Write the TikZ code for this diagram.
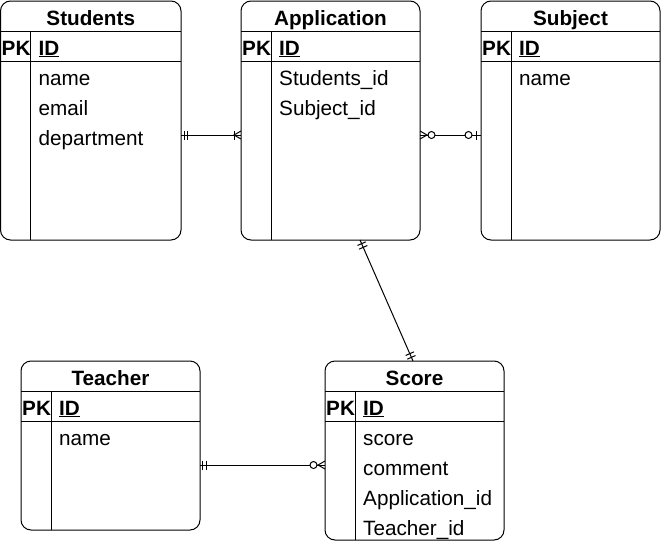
\documentclass[tikz,border=0pt]{standalone}
\usepackage{fontspec}
\setmainfont{Liberation Sans}
\usetikzlibrary{calc}
\tikzset{
  ebox/.style={draw, line width=1pt, rounded corners=10pt, inner sep=0pt, outer sep=0pt, anchor=north west},
  etitle/.style={font=\fontsize{20.7}{24}\selectfont\bfseries, anchor=base, inner sep=0pt},
  efield/.style={font=\fontsize{20.7}{24}\selectfont, anchor=base west, inner sep=0pt},
  conn/.style={line width=1pt},
  ercircle/.style={conn, fill=white},
}
\newcommand\erbox[6]{%
  \node[ebox, minimum width=#4pt, minimum height=#5pt] (#1) at (#2,#3) {};
  \draw[conn] ($(#1.north west)+(0,30)$) -- ($(#1.north east)+(0,30)$);
  \draw[conn] ($(#1.north west)+(0,60)$) -- ($(#1.north east)+(0,60)$);
  \draw[conn] ($(#1.north west)+(30,30)$) -- ($(#1.south west)+(30,0)$);
  \node[etitle] (#1-title) at ($(#1.north)+(0,24)$) {#6};
  \node[etitle, anchor=base west] (#1-pk) at ($(#1.north west)+(1,54)$) {PK};
  \node[etitle, anchor=base west] (#1-id) at ($(#1.north west)+(38,54)$) {\underline{ID}};
}
\newcommand\erfield[3]{%
  \node[efield] (#1-f#2) at ($(#1.north west)+(38,{84+30*#2})$) {#3};
}
% bar across line at distance #3 from end #1 (other end #2)
\newcommand\erbar[3]{%
  \draw[conn] ($(#1)!#3!(#2)!4.5pt!90:(#2)$) -- ($(#1)!#3!(#2)!4.5pt!-90:(#2)$);
}
% crow's foot: tips on #1, converging at distance #3 toward #2
\newcommand\ercrow[3]{%
  \draw[conn] ($(#1)!4pt!90:(#2)$) -- ($(#1)!#3!(#2)$) -- ($(#1)!4pt!-90:(#2)$);
}
% circle centred at distance #3 from #1
\newcommand\ercirc[3]{%
  \draw[ercircle] ($(#1)!#3!(#2)$) circle[radius=3.5pt];
}
\begin{document}
\begin{tikzpicture}[x=1pt, y=-1pt]
  \useasboundingbox (0,0) rectangle (661,541);

  \erbox{Students}{0.5}{1}{180.5}{239}{Students}
  \erfield{Students}{0}{name}
  \erfield{Students}{1}{email}
  \erfield{Students}{2}{department}

  \erbox{Application}{241}{1}{179}{239}{Application}
  \erfield{Application}{0}{Students\_id}
  \erfield{Application}{1}{Subject\_id}

  \erbox{Subject}{481}{1}{179}{239}{Subject}
  \erfield{Subject}{0}{name}

  \erbox{Teacher}{21}{361}{179}{169}{Teacher}
  \erfield{Teacher}{0}{name}

  \erbox{Score}{325}{361}{179}{179}{Score}
  \erfield{Score}{0}{score}
  \erfield{Score}{1}{comment}
  \erfield{Score}{2}{Application\_id}
  \erfield{Score}{3}{Teacher\_id}

  % Students -- Application (one mandatory to one-or-many)
  \coordinate (sa1) at ($(Students.north east)+(0,134)$);
  \coordinate (sa2) at ($(Application.north west)+(0,134)$);
  \draw[conn] (sa1) -- (sa2);
  \erbar{sa1}{sa2}{3pt}
  \erbar{sa1}{sa2}{6.5pt}
  \ercrow{sa2}{sa1}{7pt}
  \erbar{sa2}{sa1}{7pt}

  % Application -- Subject (zero-or-many to zero-or-one)
  \coordinate (as1) at ($(Application.north east)+(0,134)$);
  \coordinate (as2) at ($(Subject.north west)+(0,134)$);
  \draw[conn] (as1) -- (as2);
  \ercrow{as1}{as2}{7pt}
  \ercirc{as1}{as2}{11.5pt}
  \erbar{as2}{as1}{5pt}
  \ercirc{as2}{as1}{12.5pt}

  % Application -- Score (one mandatory both ends)
  \coordinate (ac1) at ($(Application.south)+(29.5,0)$);
  \coordinate (ac2) at ($(Score.north)+(-1.5,0)$);
  \draw[conn] (ac1) -- (ac2);
  \erbar{ac1}{ac2}{4pt}
  \erbar{ac1}{ac2}{8pt}
  \erbar{ac2}{ac1}{4pt}
  \erbar{ac2}{ac1}{8pt}

  % Teacher -- Score (one mandatory to zero-or-many)
  \coordinate (ts1) at ($(Teacher.north east)+(0,104)$);
  \coordinate (ts2) at ($(Score.north west)+(0,104)$);
  \draw[conn] (ts1) -- (ts2);
  \erbar{ts1}{ts2}{2.5pt}
  \erbar{ts1}{ts2}{6.5pt}
  \ercrow{ts2}{ts1}{7pt}
  \ercirc{ts2}{ts1}{11.5pt}
\end{tikzpicture}
\end{document}
